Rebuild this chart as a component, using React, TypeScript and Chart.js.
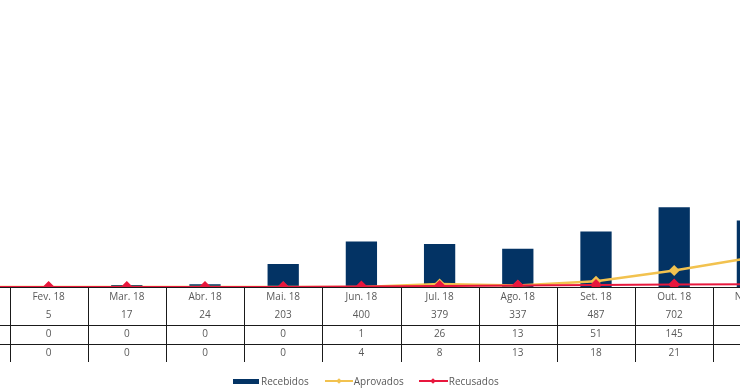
import React, { useEffect, useRef } from "react";
import { Chart, registerables } from "chart.js";

Chart.register(...registerables);

const categories = ["Jan. 18", "Fev. 18", "Mar. 18", "Abr. 18", "Mai. 18", "Jun. 18", "Jul. 18", "Ago. 18", "Set. 18", "Out. 18", "Nov. 18"];
const recebidos = [0, 5, 17, 24, 203, 400, 379, 337, 487, 702, 585];
const aprovados = [0, 0, 0, 0, 0, 1, 26, 13, 51, 145, 260];
const recusados = [0, 0, 0, 0, 0, 4, 8, 13, 18, 21, 24];
const seriesNames = ["Recebidos", "Aprovados", "Recusados"];
const yMax = 2400;

const BAR = "#033364";
const YEL = "#F2C24F";
const RED = "#E8173D";
const TXT = "#595959";
const FONT = "'Open Sans', sans-serif";

const tablePlugin = {
  id: "dataTable",
  beforeDatasetsDraw(chart: any) {
    const { ctx, chartArea } = chart;
    const b = chartArea.bottom;
    ctx.save();
    ctx.strokeStyle = "#1a1a1a";
    ctx.lineWidth = 1;
    ctx.beginPath();
    ctx.moveTo(0, Math.round(b) + 0.5);
    ctx.lineTo(chart.width, Math.round(b) + 0.5);
    ctx.stroke();
    ctx.restore();
  },
  afterDraw(chart: any) {
    const { ctx, chartArea } = chart;
    const xs = chart.scales.x;
    const n = categories.length;
    const w = (chartArea.right - chartArea.left) / n;
    const b = Math.round(chartArea.bottom);
    ctx.save();
    ctx.strokeStyle = "#1a1a1a";
    ctx.lineWidth = 1;
    ctx.beginPath();
    [38, 57].forEach((dy) => {
      ctx.moveTo(0, b + dy + 0.5);
      ctx.lineTo(chart.width, b + dy + 0.5);
    });
    for (let i = 0; i <= n; i++) {
      const x = Math.round(chartArea.left + i * w) + 0.5;
      ctx.moveTo(x, b + 1);
      ctx.lineTo(x, b + 75);
    }
    ctx.stroke();
    ctx.fillStyle = TXT;
    ctx.font = `10px ${FONT}`;
    ctx.textAlign = "center";
    ctx.textBaseline = "middle";
    const rows = [recebidos, aprovados, recusados];
    const rowY = [28, 47, 66];
    categories.forEach((c, i) => {
      const x = xs.getPixelForValue(i);
      ctx.fillText(c, x, b + 10);
      rows.forEach((r, k) => ctx.fillText(String(r[i]), x, b + rowY[k]));
    });
    ctx.restore();
  },
};

export default function App() {
  const ref = useRef<HTMLCanvasElement>(null);
  useEffect(() => {
    if (!ref.current) return;
    const chart = new Chart(ref.current, {
      type: "bar",
      data: {
        labels: categories,
        datasets: [
          {
            type: "line",
            label: seriesNames[2],
            data: recusados,
            borderColor: RED,
            backgroundColor: RED,
            borderWidth: 2,
            pointStyle: "rectRot",
            pointRadius: 6,
            pointBorderWidth: 0,
            tension: 0,
            order: 0,
          } as any,
          {
            type: "line",
            label: seriesNames[1],
            data: aprovados,
            borderColor: YEL,
            backgroundColor: YEL,
            borderWidth: 2.5,
            pointStyle: "rectRot",
            pointRadius: 5.5,
            pointBorderWidth: 0,
            tension: 0,
            order: 1,
          } as any,
          {
            type: "bar",
            label: seriesNames[0],
            data: recebidos,
            backgroundColor: BAR,
            barPercentage: 0.4,
            categoryPercentage: 1,
            order: 2,
          } as any,
        ],
      },
      options: {
        responsive: false,
        animation: false,
        devicePixelRatio: 1,
        layout: { padding: { left: 9.3, right: 30.5, top: 14, bottom: 102 } },
        plugins: { legend: { display: false }, tooltip: { enabled: false } },
        scales: {
          x: { display: false, offset: true },
          y: { display: false, min: 0, max: yMax },
        },
      },
      plugins: [tablePlugin],
    });
    return () => chart.destroy();
  }, []);

  const legendText: React.CSSProperties = { font: `10px ${FONT}`, color: TXT, lineHeight: "12px" };
  const lineKey = (color: string, w: number) => (
    <span style={{ position: "relative", display: "inline-block", width: w, height: 12 }}>
      <span style={{ position: "absolute", left: 0, right: 0, top: 5, height: 2, background: color }} />
      <span style={{ position: "absolute", left: w / 2 - 2, top: 4, width: 4, height: 4, background: color, transform: "rotate(45deg)" }} />
    </span>
  );

  return (
    <div style={{ position: "fixed", left: 0, top: 0, width: 740, height: 389, overflow: "hidden", background: "#fff" }}>
      <canvas ref={ref} width={900} height={389} style={{ position: "absolute", left: -78, top: 0, width: 900, height: 389 }} />
      <div style={{ position: "absolute", left: 233, top: 375, display: "flex", alignItems: "center", whiteSpace: "nowrap" }}>
        <span style={{ display: "inline-block", width: 26, height: 5, background: BAR, marginRight: 2 }} />
        <span style={{ ...legendText, marginRight: 16 }}>{seriesNames[0]}</span>
        {lineKey(YEL, 28)}
        <span style={{ ...legendText, marginLeft: 1, marginRight: 15 }}>{seriesNames[1]}</span>
        {lineKey(RED, 29)}
        <span style={{ ...legendText, marginLeft: 1 }}>{seriesNames[2]}</span>
      </div>
    </div>
  );
}
